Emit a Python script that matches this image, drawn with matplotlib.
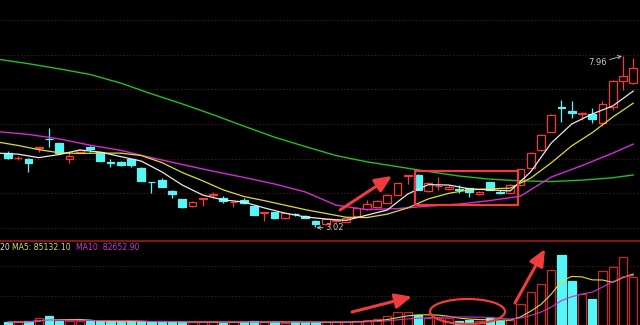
import matplotlib
matplotlib.use('Agg')
import matplotlib.pyplot as plt
from matplotlib.patches import Rectangle, Ellipse
from matplotlib.lines import Line2D
import numpy as np
import pandas as pd

# ---------------- data ----------------
opens = [5.17, 5.02, 4.99, 5.32, 5.58, 5.44, 4.98, 5.20, 5.35, 5.18,
         4.89, 4.90, 4.98, 4.74, 4.34, 4.38, 4.08, 3.83, 3.63, 3.85,
         3.96, 3.87, 3.75, 3.81, 3.63, 3.44, 3.45, 3.28, 3.41, 3.35,
         3.21, 3.12, 3.21, 3.18, 3.36, 3.54, 3.62, 3.73, 3.95, 4.51,
         4.53, 4.07, 4.21, 4.12, 4.12, 4.15, 3.97, 4.33, 4.03, 4.00,
         4.24, 4.73, 5.25, 5.78, 6.48, 6.37, 6.30, 6.29, 6.02, 6.50,
         7.24, 7.17]
closes = [5.02, 5.03, 4.87, 5.34, 5.56, 5.15, 5.08, 5.25, 5.27, 4.93,
          4.87, 4.81, 4.83, 4.36, 4.33, 4.19, 3.98, 3.60, 3.76, 3.86,
          3.98, 3.79, 3.76, 3.73, 3.38, 3.45, 3.28, 3.42, 3.40, 3.30,
          3.12, 3.25, 3.22, 3.30, 3.57, 3.70, 3.77, 3.95, 4.30, 4.52,
          4.10, 4.31, 4.22, 4.19, 4.11, 4.05, 4.05, 4.10, 4.02, 4.25,
          4.69, 5.17, 5.68, 6.26, 6.46, 6.31, 6.31, 6.14, 6.57, 7.25,
          7.38, 7.61]
highs = [5.22, 5.08, 5.02, 5.35, 5.88, 5.45, 5.19, 5.28, 5.37, 5.19,
         4.99, 4.92, 5.00, 4.75, 4.34, 4.44, 4.10, 3.84, 3.77, 3.87,
         4.05, 3.92, 3.77, 3.86, 3.64, 3.45, 3.46, 3.43, 3.44, 3.37,
         3.22, 3.26, 3.25, 3.33, 3.61, 3.81, 3.81, 3.97, 4.31, 4.53,
         4.56, 4.32, 4.48, 4.24, 4.24, 4.16, 4.06, 4.34, 4.10, 4.27,
         4.71, 5.19, 5.70, 6.28, 6.69, 6.65, 6.35, 6.46, 6.65, 7.27,
         7.96, 7.90]
lows = [4.99, 4.96, 4.62, 5.18, 5.34, 5.14, 4.87, 5.19, 5.18, 4.92,
        4.77, 4.79, 4.77, 4.35, 4.02, 4.19, 3.86, 3.59, 3.62, 3.63,
        3.86, 3.71, 3.61, 3.69, 3.37, 3.21, 3.27, 3.27, 3.35, 3.29,
        3.02, 3.10, 3.18, 3.16, 3.33, 3.52, 3.58, 3.71, 3.94, 4.27,
        4.09, 4.05, 4.10, 4.10, 4.01, 3.89, 3.95, 4.09, 3.98, 3.98,
        4.22, 4.71, 5.23, 5.76, 6.07, 6.16, 6.12, 6.02, 5.94, 6.40,
        6.98, 7.15]
volumes = [5800, 5800, 6800, 13000, 17400, 8700, 6800, 7700, 6800, 6800,
           5800, 5800, 6800, 6800, 5800, 6800, 5800, 5800, 5800, 5800,
           5800, 4800, 5800, 5800, 6800, 5800, 5800, 4800, 5800, 5800,
           5800, 5200, 5200, 6400, 7700, 9700, 11600, 17400, 24600, 24600,
           19400, 13000, 14100, 13000, 7700, 9700, 7700, 13000, 7700, 9700,
           40100, 63300, 78800, 106400, 135500, 85700, 59400, 49700, 105100, 112800,
           132200, 93500]

# price moving averages
ma_fast_idx = list(range(-1, 62, 2))
ma5_vals = [5.16, 5.13, 5.03, 5.12, 5.25, 5.19, 5.06, 4.93, 4.62, 4.24,
            3.95, 3.81, 3.75, 3.58, 3.43, 3.32, 3.26, 3.22, 3.37, 3.52,
            3.98, 4.25, 4.24, 4.13, 4.10, 4.07, 4.62, 5.45, 6.00, 6.29,
            6.52, 6.95]
ma10_vals = [5.48, 5.38, 5.26, 5.17, 5.15, 5.16, 5.16, 5.09, 4.89, 4.60,
             4.36, 4.10, 3.91, 3.79, 3.66, 3.53, 3.42, 3.31, 3.30, 3.40,
             3.58, 3.84, 4.00, 4.10, 4.13, 4.15, 4.44, 4.88, 5.37, 5.75,
             6.20, 6.60]
ma_slow_idx = list(range(-1, 60, 3)) + [61]
ma20_vals = [5.78, 5.70, 5.57, 5.39, 5.24, 5.03, 4.83, 4.64, 4.46, 4.27,
             4.04, 3.66, 3.53, 3.56, 3.63, 3.69, 3.79, 3.92, 4.47, 4.80,
             5.16, 5.42]
ma60_vals = [7.87, 7.74, 7.59, 7.43, 7.18, 6.87, 6.58, 6.27, 5.94, 5.62,
             5.35, 5.09, 4.91, 4.77, 4.63, 4.50, 4.41, 4.36, 4.34, 4.38,
             4.45, 4.53]

price_grid = [3, 4, 5, 6, 7, 8, 9]
vol_grid = [57000, 114000]
high_label = "7.96"
low_label = "3.02"
vol_text = [("20 ", '#e6e6c0'), ("MA5: 85132.10  ", '#dede30'), ("MA10: 82652.90", '#d830d8')]

# ---------------- style ----------------
RED = '#ff3434'
VRED = '#c82828'
CYAN = '#56f6f6'
GRID = '#4a1616'
MARK = '#f03c3c'

n = len(opens)
x = np.arange(n)

W, H = 640, 325
fig = plt.figure(figsize=(6.4, 3.25), dpi=100, facecolor='black')
axp = fig.add_axes([0, 1 - 240 / H, 1, 240 / H], facecolor='black')
axv = fig.add_axes([0, 0, 1, 84 / H], facecolor='black')

xlim = (-0.78, 61.66)
for ax in (axp, axv):
    ax.set_xlim(*xlim)
    ax.set_xticks([])
    ax.set_yticks([])
    for s in ax.spines.values():
        s.set_visible(False)

axp.set_ylim(2.654, 9.577)
axv.set_ylim(0, 162540)

for g in price_grid:
    axp.axhline(g, color=GRID, lw=0.7, ls=(0, (1.5, 2)), zorder=0)
for g in vol_grid:
    axv.axhline(g, color=GRID, lw=0.7, ls=(0, (1.5, 2)), zorder=0)

# ---------------- candles ----------------
bw = 0.76
for i in range(n):
    o, c, h, l = opens[i], closes[i], highs[i], lows[i]
    up = c >= o
    col = RED if up else CYAN
    lo_b, hi_b = min(o, c), max(o, c)
    if up:
        axp.plot([i, i], [l, lo_b], color=col, lw=0.9, zorder=2, solid_capstyle='butt')
        axp.plot([i, i], [hi_b, h], color=col, lw=0.9, zorder=2, solid_capstyle='butt')
        axp.add_patch(Rectangle((i - bw / 2, lo_b), bw, hi_b - lo_b,
                                facecolor='black', edgecolor=col, lw=0.9, zorder=3))
    else:
        axp.plot([i, i], [l, h], color=col, lw=0.9, zorder=2, solid_capstyle='butt')
        axp.add_patch(Rectangle((i - bw / 2, lo_b), bw, hi_b - lo_b,
                                facecolor=col, edgecolor=col, lw=0.9, zorder=3))

# moving averages
axp.plot(ma_slow_idx, ma60_vals, color='#22c022', lw=1.0, zorder=4)
axp.plot(ma_slow_idx, ma20_vals, color='#d828d8', lw=1.0, zorder=4)
axp.plot(ma_fast_idx, ma10_vals, color='#dede28', lw=0.9, zorder=4)
axp.plot(ma_fast_idx, ma5_vals, color='#e8e8e8', lw=0.9, zorder=4)

# high / low labels
ih = int(np.argmax(highs))
il = int(np.argmin(lows))
axp.annotate(high_label, xy=(ih - 0.1, highs[ih]), xytext=(ih - 3.4, highs[ih] - 0.2),
             color='#c8c8c8', fontsize=6, va='center', ha='left',
             arrowprops=dict(arrowstyle='->', color='#c8c8c8', lw=0.6,
                             shrinkA=0, shrinkB=0))
axp.annotate(low_label, xy=(il + 0.1, lows[il] - 0.01), xytext=(il + 1.0, lows[il] - 0.01),
             color='#c8c8c8', fontsize=6, va='center', ha='left',
             arrowprops=dict(arrowstyle='->', color='#c8c8c8', lw=0.6,
                             shrinkA=0, shrinkB=0))

# annotations: rectangle and arrow
axp.add_patch(Rectangle((39.71, 3.65), 49.76 - 39.71, 4.65 - 3.65,
                        facecolor='none', edgecolor=MARK, lw=1.6, zorder=6))
arrow_style = dict(arrowstyle='-|>,head_width=0.45,head_length=1.0',
                   color=MARK, lw=2.2, shrinkA=0, shrinkB=0)
axp.annotate('', xy=(37.46, 4.50), xytext=(32.4, 3.52), arrowprops=arrow_style, zorder=7)

# ---------------- volume ----------------
vw = 0.8
for i in range(n):
    up = closes[i] >= opens[i]
    if up:
        axv.add_patch(Rectangle((i - vw / 2, 0), vw, volumes[i],
                                facecolor='black', edgecolor=VRED, lw=0.9, zorder=2))
    else:
        axv.add_patch(Rectangle((i - vw / 2, 0), vw, volumes[i],
                                facecolor=CYAN, edgecolor=CYAN, lw=0.9, zorder=2))

vs = pd.Series(volumes, dtype=float)
axv.plot(x, vs.rolling(5, min_periods=1).mean(), color='#dede28', lw=0.8, zorder=3)
axv.plot(x, vs.rolling(10, min_periods=1).mean(), color='#d030d0', lw=0.8, zorder=3)

axv.annotate('', xy=(39.41, 54760), xytext=(33.56, 25150), arrowprops=arrow_style, zorder=7)
axv.annotate('', xy=(52.39, 147060), xytext=(49.46, 42570), arrowprops=arrow_style, zorder=7)
axv.add_patch(Ellipse((44.83, 26120), 7.32, 48375, facecolor='none',
                      edgecolor=MARK, lw=1.6, zorder=6, clip_on=False))

# volume header text
xpos = 0.0
renderer = fig.canvas.get_renderer()
for txt, col in vol_text:
    t = fig.text(xpos, 1 - 247.5 / H, txt, color=col, fontsize=5.6, va='center', ha='left')
    bb = t.get_window_extent(renderer=renderer)
    xpos += bb.width / W

# separator line
fig.add_artist(Line2D([0, 1], [1 - 240.8 / H] * 2, color='#8a1414', lw=1.4))

fig.savefig('out.png', dpi=100, facecolor='black')
